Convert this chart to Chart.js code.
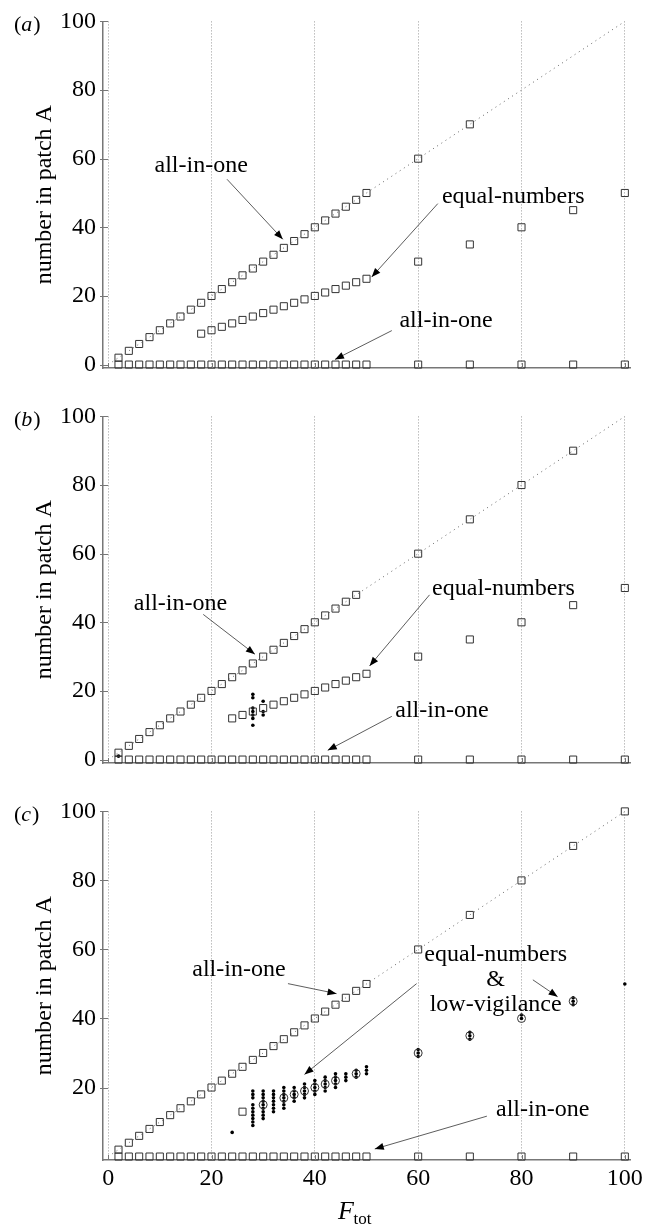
<!DOCTYPE html>
<html>
<head>
<meta charset="utf-8">
<script src="https://cdn.jsdelivr.net/npm/chart.js@4.4.0/dist/chart.umd.min.js"></script>
<style>
  body { margin: 0; background: #fff; }
  #painel { position: relative; width: 652px; height: 1224px; }
  canvas { position: absolute; left: 0; }
</style>
</head>
<body>
<div id="painel">
  <canvas id="grafA" width="652" height="395" style="top:0px"></canvas>
  <canvas id="grafB" width="652" height="395" style="top:395px"></canvas>
  <canvas id="grafC" width="652" height="434" style="top:790px"></canvas>
</div>
<script>
// ticks
var xTicks = [0, 20, 40, 60, 80, 100];
var yTicksAB = [0, 20, 40, 60, 80, 100];
var yTicksC = [20, 40, 60, 80, 100];

// dotted y = x line
var diagX = [0, 100];
var diagY = [0, 100];

// bottom row (all-in-one, none in A) - same in all panels
var lowX = [2, 4, 6, 8, 10, 12, 14, 16, 18, 20, 22, 24, 26, 28, 30, 32, 34, 36, 38, 40, 42, 44, 46, 48, 50, 60, 70, 80, 90, 100];
var lowY = [0, 0, 0, 0, 0, 0, 0, 0, 0, 0, 0, 0, 0, 0, 0, 0, 0, 0, 0, 0, 0, 0, 0, 0, 0, 0, 0, 0, 0, 0];

// panel (a)
var aTopX = [2, 4, 6, 8, 10, 12, 14, 16, 18, 20, 22, 24, 26, 28, 30, 32, 34, 36, 38, 40, 42, 44, 46, 48, 50, 60, 70];
var aTopY = [2, 4, 6, 8, 10, 12, 14, 16, 18, 20, 22, 24, 26, 28, 30, 32, 34, 36, 38, 40, 42, 44, 46, 48, 50, 60, 70];
var aEqX = [18, 20, 22, 24, 26, 28, 30, 32, 34, 36, 38, 40, 42, 44, 46, 48, 50, 60, 70, 80, 90, 100];
var aEqY = [9, 10, 11, 12, 13, 14, 15, 16, 17, 18, 19, 20, 21, 22, 23, 24, 25, 30, 35, 40, 45, 50];

// panel (b)
var bTopX = [2, 4, 6, 8, 10, 12, 14, 16, 18, 20, 22, 24, 26, 28, 30, 32, 34, 36, 38, 40, 42, 44, 46, 48, 60, 70, 80, 90];
var bTopY = [2, 4, 6, 8, 10, 12, 14, 16, 18, 20, 22, 24, 26, 28, 30, 32, 34, 36, 38, 40, 42, 44, 46, 48, 60, 70, 80, 90];
var bEqX = [24, 26, 28, 30, 32, 34, 36, 38, 40, 42, 44, 46, 48, 50, 60, 70, 80, 90, 100];
var bEqY = [12, 13, 14, 15, 16, 17, 18, 19, 20, 21, 22, 23, 24, 25, 30, 35, 40, 45, 50];
var bDotX = [2, 28, 28, 28, 28, 28, 28, 28, 30, 30, 30];
var bDotY = [1, 10, 12, 13, 14, 15, 18, 19, 13, 14, 17];

// panel (c)
var cTopX = [2, 4, 6, 8, 10, 12, 14, 16, 18, 20, 22, 24, 26, 28, 30, 32, 34, 36, 38, 40, 42, 44, 46, 48, 50, 60, 70, 80, 90, 100];
var cTopY = [2, 4, 6, 8, 10, 12, 14, 16, 18, 20, 22, 24, 26, 28, 30, 32, 34, 36, 38, 40, 42, 44, 46, 48, 50, 60, 70, 80, 90, 100];
var cEqX = [26];
var cEqY = [13];
var cCircX = [30, 34, 36, 38, 40, 42, 44, 48, 60, 70, 80, 90];
var cCircY = [15, 17, 18, 19, 20, 21, 22, 24, 30, 35, 40, 45];
var cDotX = [24,
  28, 28, 28, 28, 28, 28, 28, 28, 28, 28,
  30, 30, 30, 30, 30, 30, 30, 30, 30,
  32, 32, 32, 32, 32, 32, 32,
  34, 34, 34, 34, 34, 34, 34,
  36, 36, 36, 36, 36,
  38, 38, 38, 38, 38,
  40, 40, 40, 40, 40,
  42, 42, 42, 42, 42,
  44, 44, 44, 44, 44,
  46, 46, 46,
  48, 48, 48,
  50, 50, 50,
  60, 60, 60,
  70, 70, 70,
  80, 80,
  90, 90, 90,
  100];
var cDotY = [7,
  9, 10, 11, 12, 13, 14, 15, 17, 18, 19,
  11, 12, 13, 14, 15, 16, 17, 18, 19,
  13, 14, 15, 16, 17, 18, 19,
  14, 15, 16, 17, 18, 19, 20,
  16, 17, 18, 19, 20,
  17, 18, 19, 20, 21,
  18, 19, 20, 21, 22,
  19, 20, 21, 22, 23,
  20, 21, 22, 23, 24,
  22, 23, 24,
  23, 24, 25,
  24, 25, 26,
  29, 30, 31,
  34, 35, 36,
  40, 41,
  44, 45, 46,
  50];

// labels with arrows, in data units
var notasA = [
  { linhas: ['all-in-one'], x: 18, y: 58, setas: [[23, 54, 33.8, 36.5]] },
  { linhas: ['equal-numbers'], x: 78.4, y: 49, setas: [[63.8, 46.9, 51, 25.5]] },
  { linhas: ['all-in-one'], x: 65.4, y: 12.8, setas: [[54.9, 9.9, 43.9, 1.5]] }
];
var notasB = [
  { linhas: ['all-in-one'], x: 14, y: 45.5, setas: [[18.4, 42.3, 28.4, 30.7]] },
  { linhas: ['equal-numbers'], x: 76.5, y: 49.8, setas: [[62.2, 48, 50.6, 27.3]] },
  { linhas: ['all-in-one'], x: 64.6, y: 14.3, setas: [[54.9, 12.6, 42.5, 2.7]] }
];
var notasC = [
  { linhas: ['all-in-one'], x: 25.3, y: 54.1, setas: [[34.8, 50.1, 44.2, 47.2]] },
  { linhas: ['equal-numbers', '&', 'low-vigilance'], x: 75, y: 58.4,
    setas: [[59.7, 50.1, 38, 23.8], [82.2, 51.2, 87, 46.3]] },
  { linhas: ['all-in-one'], x: 84.1, y: 13.7, setas: [[73.3, 11.7, 51.6, 2.2]] }
];

var fonte = 'Liberation Serif, Times New Roman, serif';

function pontos(xs, ys) {
  return xs.map(function (x, i) { return { x: x, y: ys[i] }; });
}

function quadrados(xs, ys) {
  return { data: pontos(xs, ys), pointStyle: 'rect', pointRadius: 5, pointBorderWidth: 1,
    pointBorderColor: '#333', pointBackgroundColor: 'rgba(0,0,0,0)', showLine: false, clip: false };
}

function seta(ctx, x0, y0, x1, y1) {
  ctx.beginPath();
  ctx.moveTo(x0, y0);
  ctx.lineTo(x1, y1);
  ctx.stroke();
  var ang = Math.atan2(y1 - y0, x1 - x0);
  var L = 9, W = 3.5;
  ctx.beginPath();
  ctx.moveTo(x1, y1);
  ctx.lineTo(x1 - L * Math.cos(ang) + W * Math.sin(ang), y1 - L * Math.sin(ang) - W * Math.cos(ang));
  ctx.lineTo(x1 - L * Math.cos(ang) - W * Math.sin(ang), y1 - L * Math.sin(ang) + W * Math.cos(ang));
  ctx.closePath();
  ctx.fill();
}

function plotarPainel(id, altura, topo, datasets, yTicks, mostrarX, notas, letra) {
  var ctx = document.getElementById(id).getContext('2d');
  var fundo = topo + 350;

  var extras = {
    id: 'extras',
    afterDraw: function (chart) {
      var c = chart.ctx;
      var xs = chart.scales.x, ys = chart.scales.y;
      var area = chart.chartArea;
      c.save();
      // tick marks (MATLAB style, mostly inward)
      c.strokeStyle = '#777';
      c.lineWidth = 1;
      yTicks.forEach(function (v) {
        var py = Math.round(ys.getPixelForValue(v)) + 0.5;
        c.beginPath(); c.moveTo(area.left - 3, py); c.lineTo(area.left + 5, py); c.stroke();
      });
      xTicks.forEach(function (v) {
        var px = Math.round(xs.getPixelForValue(v)) + 0.5;
        c.beginPath(); c.moveTo(px, area.bottom); c.lineTo(px, area.bottom - 5); c.stroke();
      });
      // notes
      c.fillStyle = '#000';
      c.font = '24px ' + fonte;
      c.textAlign = 'center';
      c.textBaseline = 'middle';
      notas.forEach(function (n) {
        var px = xs.getPixelForValue(n.x), py = ys.getPixelForValue(n.y);
        n.linhas.forEach(function (t, i) { c.fillText(t, px, py + i * 25); });
        c.strokeStyle = '#333';
        c.fillStyle = '#000';
        c.lineWidth = 0.8;
        n.setas.forEach(function (s) {
          seta(c, xs.getPixelForValue(s[0]), ys.getPixelForValue(s[1]),
            xs.getPixelForValue(s[2]), ys.getPixelForValue(s[3]));
        });
      });
      // panel letter (a)/(b)/(c)
      c.textAlign = 'left';
      c.font = '22px ' + fonte;
      var lx = 14, ly = area.top + 4;
      c.fillText('(', lx, ly);
      lx += c.measureText('(').width;
      c.font = 'italic 22px ' + fonte;
      c.fillText(letra, lx, ly);
      lx += c.measureText(letra).width + 1;
      c.font = '22px ' + fonte;
      c.fillText(')', lx, ly);
      // x axis title
      if (mostrarX) {
        c.font = 'italic 26px ' + fonte;
        c.textAlign = 'left';
        var fx = 338, fy = area.bottom + 52;
        c.fillText('F', fx, fy);
        c.font = '17px ' + fonte;
        c.fillText('tot', fx + c.measureText('F').width + 6, fy + 8);
      }
      c.restore();
    }
  };

  return new Chart(ctx, {
    type: 'scatter',
    data: { datasets: datasets },
    options: {
      responsive: false,
      animation: false,
      devicePixelRatio: 1,
      layout: { padding: { top: topo, right: 22, left: 0, bottom: 0 } },
      plugins: { legend: { display: false }, tooltip: { enabled: false } },
      scales: {
        x: {
          type: 'linear', min: -1, max: 101,
          afterBuildTicks: function (s) { s.ticks = xTicks.map(function (v) { return { value: v }; }); },
          afterFit: function (s) { s.height = altura - fundo; },
          grid: { color: '#999', lineWidth: 1, drawTicks: false },
          border: { color: '#777', width: 1.5, dash: [1, 2] },
          ticks: { display: mostrarX, color: '#000', padding: 4, maxRotation: 0,
            font: { family: fonte, size: 24 } }
        },
        y: {
          type: 'linear', min: -1, max: 100,
          afterBuildTicks: function (s) { s.ticks = yTicks.map(function (v) { return { value: v }; }); },
          afterFit: function (s) { s.width = 103; },
          grid: { drawOnChartArea: false, drawTicks: false },
          border: { color: '#777', width: 1.5 },
          ticks: { color: '#000', padding: 7, font: { family: fonte, size: 24 } },
          title: { display: true, text: 'number in patch A', color: '#000',
            font: { family: fonte, size: 24 }, padding: { top: 30, bottom: 0 } }
        }
      }
    },
    plugins: [extras]
  });
}

function linhaDiagonal() {
  return { type: 'line', data: pontos(diagX, diagY), borderColor: '#666', borderWidth: 1,
    borderDash: [1, 4], pointRadius: 0, showLine: true, fill: false };
}

function pontosPretos(xs, ys) {
  return { data: pontos(xs, ys), pointStyle: 'circle', pointRadius: 1.8, pointBorderWidth: 0,
    pointBackgroundColor: '#000', showLine: false, clip: false };
}

plotarPainel('grafA', 395, 18, [
  linhaDiagonal(),
  quadrados(aTopX, aTopY),
  quadrados(aEqX, aEqY),
  quadrados(lowX, lowY)
], yTicksAB, false, notasA, 'a');

plotarPainel('grafB', 395, 18, [
  linhaDiagonal(),
  quadrados(bTopX, bTopY),
  quadrados(bEqX, bEqY),
  quadrados(lowX, lowY),
  pontosPretos(bDotX, bDotY)
], yTicksAB, false, notasB, 'b');

plotarPainel('grafC', 434, 20, [
  linhaDiagonal(),
  quadrados(cTopX, cTopY),
  quadrados(cEqX, cEqY),
  quadrados(lowX, lowY),
  { data: pontos(cCircX, cCircY), pointStyle: 'circle', pointRadius: 4, pointBorderWidth: 1,
    pointBorderColor: '#333', pointBackgroundColor: 'rgba(0,0,0,0)', showLine: false, clip: false },
  pontosPretos(cDotX, cDotY)
], yTicksC, true, notasC, 'c');
</script>
</body>
</html>
